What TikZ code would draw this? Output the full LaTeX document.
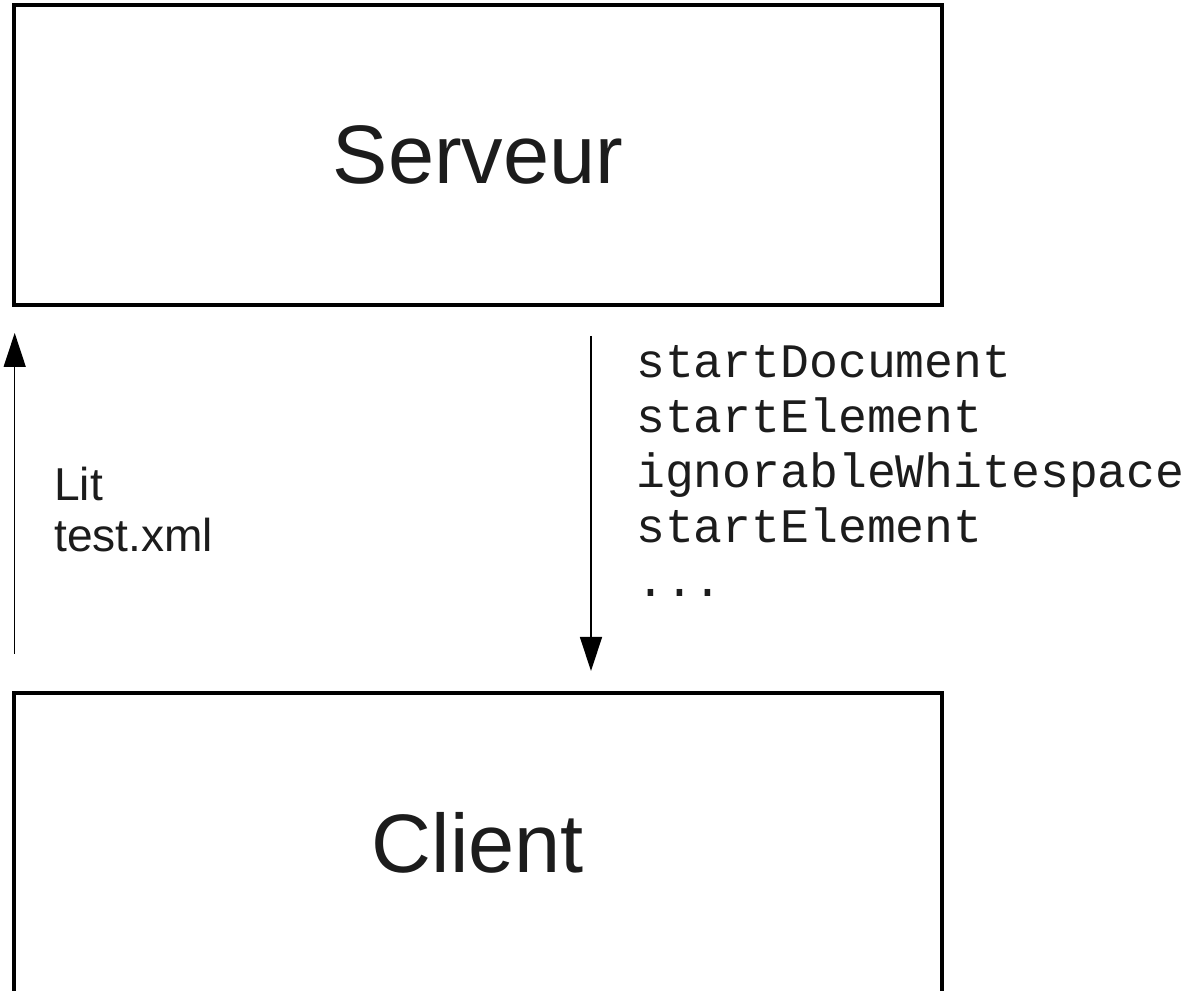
\documentclass[tikz,border=0pt]{standalone}
\usepackage{fontspec}
\setmainfont{Liberation Sans}
\setmonofont{Liberation Mono}
\definecolor{saxInk}{RGB}{28,28,28}
\usetikzlibrary{arrows.meta,positioning,calc}

\tikzset{
  saxbox/.style={draw=black, line width=2.6pt, inner sep=0pt, outer sep=0pt,
    minimum width=23.21cm, minimum height=7.5cm, text=saxInk,
    font=\fontsize{59}{68}\selectfont},
  saxflow/.style={draw=black, line width=1pt,
    -{Triangle[length=0.85cm,width=0.55cm]}},
  saxlabel/.style={inner sep=0pt, align=left, text=saxInk,
    font=\fontsize{32.8}{36.3}\selectfont},
  saxevents/.style={inner sep=0pt, align=left, text=saxInk,
    font=\ttfamily\fontsize{34.2}{39.1}\selectfont},
}

\begin{document}
\begin{tikzpicture}
  \useasboundingbox (0,0) rectangle (29.725,24.775);

  \node[saxbox] (serveur) at (11.95,20.9) {Serveur};
  \node[saxbox] (client) at (11.95,3.7) {Client};

  % lecture du fichier, puis evenements SAX
  \draw[saxflow] ([shift={(0.0225,0.975)}]client.north west)
    -- ([shift={(0.0225,-0.7)}]serveur.south west);
  \draw[saxflow] ([shift={(2.825,-0.775)}]serveur.south)
    -- ([shift={(2.825,0.55)}]client.north);

  \node[saxlabel, anchor=base west] (lit) at (1.35,10.975) {Lit\\test.xml};
  \node[saxevents, anchor=base west] (events) at (15.9,9.85)
    {startDocument\\startElement\\ignorableWhitespace\\startElement\\...};
\end{tikzpicture}
\end{document}
